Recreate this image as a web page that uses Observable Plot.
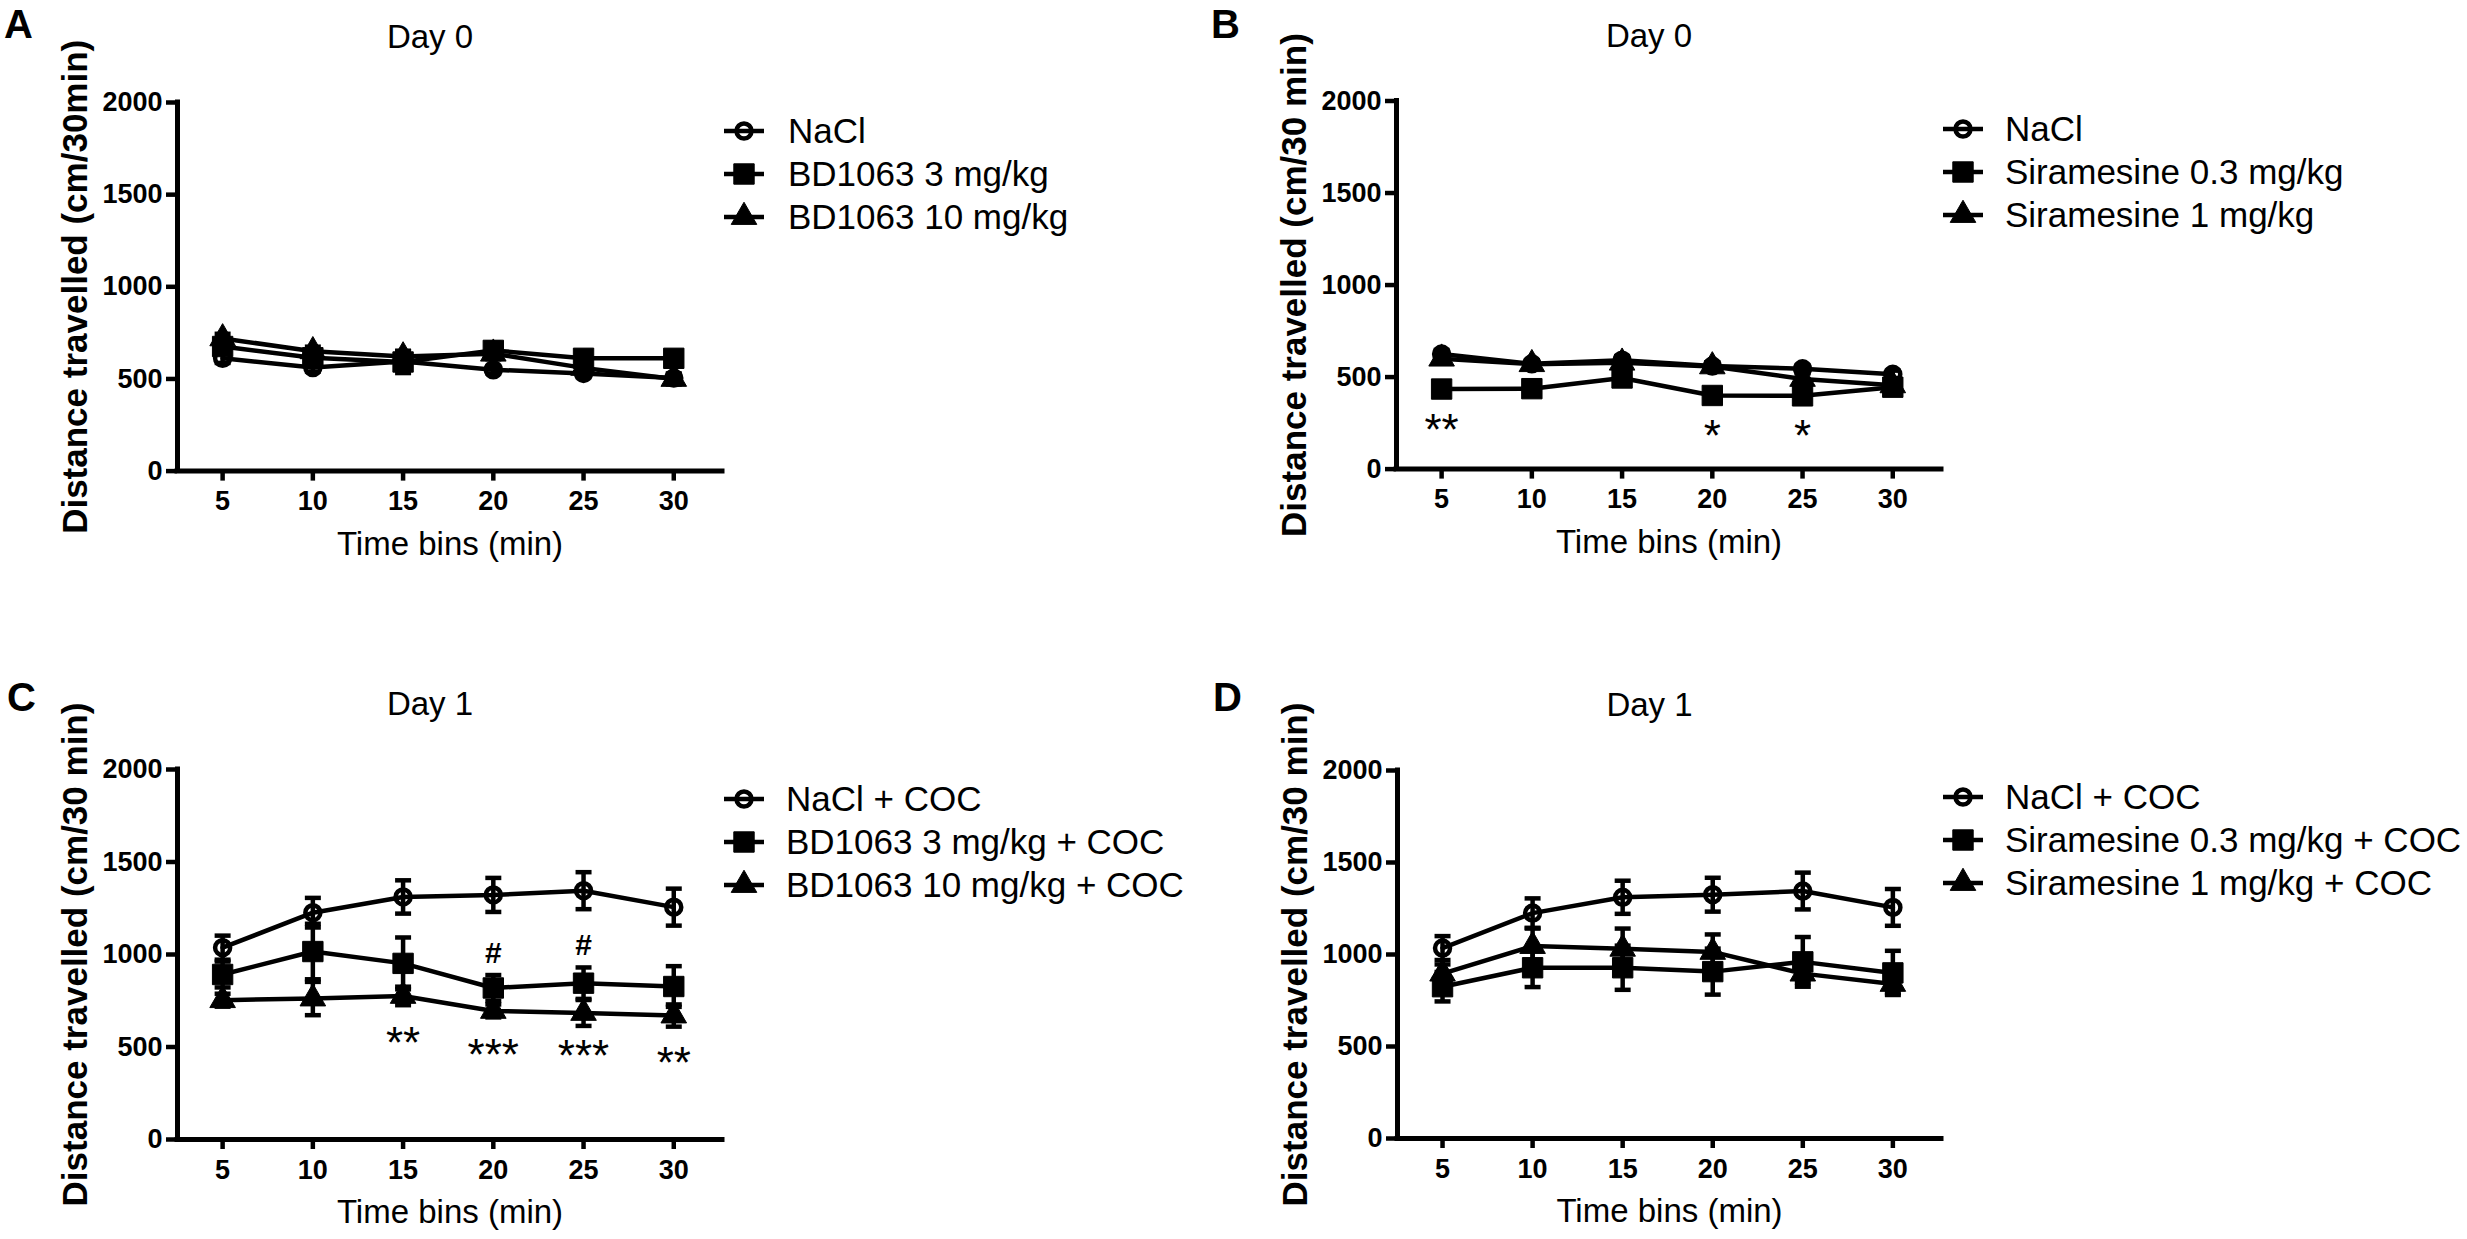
<!DOCTYPE html>
<html>
<head>
<meta charset="utf-8">
<script src="https://cdn.jsdelivr.net/npm/d3@7"></script>
<script src="https://cdn.jsdelivr.net/npm/@observablehq/plot@0.6"></script>
<style>
  html, body { margin: 0; padding: 0; background: #fff; }
  body { width: 2467px; height: 1239px; position: relative; overflow: hidden;
         font-family: "Liberation Sans", Arial, sans-serif; color: #000; }
  .panel { position: absolute; }
  #overlay { position: absolute; left: 0; top: 0; pointer-events: none; }
</style>
</head>
<body>
<div id="pA" class="panel" style="left:0px;top:0px"></div>
<div id="pB" class="panel" style="left:1230px;top:0px"></div>
<div id="pC" class="panel" style="left:0px;top:619px"></div>
<div id="pD" class="panel" style="left:1230px;top:619px"></div>
<svg id="overlay" width="2467" height="1239"></svg>
<script>
// ---------- data ----------
const bins = [5, 10, 15, 20, 25, 30];
const yTicks = [0, 500, 1000, 1500, 2000];

// Panel A (Day 0, BD1063)
const aNames = ["NaCl", "BD1063 3 mg/kg", "BD1063 10 mg/kg"];
const aNaCl = [612, 562, 595, 550, 530, 505];
const aNaClErr = [25, 22, 25, 20, 20, 20];
const aBD3 = [676, 615, 592, 655, 612, 612];
const aBD3Err = [30, 25, 60, 42, 30, 30];
const aBD10 = [720, 650, 622, 637, 560, 500];
const aBD10Err = [25, 25, 30, 30, 25, 30];

// Panel B (Day 0, Siramesine)
const bNames = ["NaCl", "Siramesine 0.3 mg/kg", "Siramesine 1 mg/kg"];
const bNaCl = [625, 572, 592, 560, 545, 515];
const bNaClErr = [22, 20, 22, 20, 20, 20];
const bSir03 = [435, 437, 495, 400, 398, 445];
const bSir03Err = [25, 25, 30, 30, 30, 30];
const bSir1 = [600, 570, 578, 558, 490, 455];
const bSir1Err = [22, 20, 22, 22, 30, 25];
const bStars = [{t: 5, v: 268, s: "**"}, {t: 20, v: 236, s: "*"}, {t: 25, v: 236, s: "*"}];

// Panel C (Day 1, BD1063 + COC)
const cNames = ["NaCl + COC", "BD1063 3 mg/kg + COC", "BD1063 10 mg/kg + COC"];
const cNaCl = [1037, 1226, 1311, 1322, 1345, 1256];
const cNaClErr = [65, 80, 90, 92, 100, 100];
const cBD3 = [892, 1016, 952, 819, 845, 827];
const cBD3Err = [70, 150, 140, 70, 85, 110];
const cBD10 = [753, 762, 776, 695, 684, 670];
const cBD10Err = [35, 90, 50, 35, 70, 60];
const cStars = [{t: 15, v: 578, s: "**"}, {t: 20, v: 513, s: "***"}, {t: 25, v: 505, s: "***"}, {t: 30, v: 470, s: "**"}];
const cHashes = [{t: 20, v: 1005, s: "#"}, {t: 25, v: 1049, s: "#"}];

// Panel D (Day 1, Siramesine + COC)
const dNames = ["NaCl + COC", "Siramesine 0.3 mg/kg + COC", "Siramesine 1 mg/kg + COC"];
const dNaCl = [1035, 1225, 1311, 1325, 1345, 1256];
const dNaClErr = [65, 80, 90, 92, 100, 100];
const dSir03 = [825, 928, 928, 907, 960, 900];
const dSir03Err = [80, 105, 120, 125, 135, 120];
const dSir1 = [896, 1046, 1031, 1014, 896, 840];
const dSir1Err = [50, 95, 110, 95, 50, 50];

const shapes = ["circle", "square", "triangle"];

// ---------- styling ----------
const FONT = "'Liberation Sans', Arial, sans-serif";
const LW = 4.5;
const symR = {circle: 7.5, square: 11.5, triangle: 9.5};
const capSymbol = {
  draw(context, size) {
    const w = Math.sqrt(size / Math.PI);
    context.moveTo(-w, 0);
    context.lineTo(w, 0);
  }
};

function panel(el, cfg) {
  const series = cfg.series;
  const marks = [];
  series.forEach((s, k) => {
    const rows = bins.map((t, i) => ({t, v: s.mean[i], e: s.err[i]}));
    marks.push(Plot.ruleX(rows, {x: "t", y1: d => d.v - d.e, y2: d => d.v + d.e, stroke: "black", strokeWidth: LW}));
    marks.push(Plot.dot(rows, {x: "t", y: d => d.v + d.e, symbol: capSymbol, r: 8, fill: "none", stroke: "black", strokeWidth: LW}));
    marks.push(Plot.dot(rows, {x: "t", y: d => d.v - d.e, symbol: capSymbol, r: 8, fill: "none", stroke: "black", strokeWidth: LW}));
  });
  series.forEach((s, k) => {
    const rows = bins.map((t, i) => ({t, v: s.mean[i]}));
    marks.push(Plot.line(rows, {x: "t", y: "v", stroke: "black", strokeWidth: LW, strokeLinejoin: "round"}));
  });
  series.forEach((s, k) => {
    const rows = bins.map((t, i) => ({t, v: s.mean[i]}));
    const shape = shapes[k];
    marks.push(Plot.dot(rows, {
      x: "t", y: "v", symbol: shape, r: symR[shape],
      fill: shape === "circle" ? "none" : "black",
      stroke: "black", strokeWidth: shape === "circle" ? LW : 1, strokeLinejoin: "round"
    }));
  });
  // axis lines
  marks.push(Plot.ruleX([2.5], {x: d => d, y1: 0, y2: 2000, stroke: "black", strokeWidth: 5, strokeLinecap: "square"}));
  marks.push(Plot.ruleY([0], {y: d => d, x1: 2.5, x2: 32.7, stroke: "black", strokeWidth: 5, strokeLinecap: "square"}));
  marks.push(Plot.axisX({ticks: bins, tickSize: 10, tickPadding: 10, fontSize: 27, fontWeight: "bold", strokeWidth: LW, label: null, tickFormat: d => String(d)}));
  marks.push(Plot.axisY({ticks: yTicks, tickSize: 11, tickPadding: 4, fontSize: 27, fontWeight: "bold", strokeWidth: LW, label: null, tickFormat: d => String(d)}));
  // texts
  marks.push(Plot.text([cfg.title], {text: d => d, frameAnchor: "top", dx: -20, dy: -65, fontSize: 33, lineAnchor: "middle", textAnchor: "middle"}));
  marks.push(Plot.text([cfg.ylabel], {text: d => d, frameAnchor: "left", dx: -102, rotate: -90, fontSize: 35, fontWeight: "bold", lineAnchor: "middle", textAnchor: "middle"}));
  marks.push(Plot.text(["Time bins (min)"], {text: d => d, frameAnchor: "bottom", dy: 73, fontSize: 33, lineAnchor: "middle", textAnchor: "middle"}));
  if (cfg.stars) marks.push(Plot.text(cfg.stars, {x: "t", y: "v", text: "s", fontSize: 44, dy: 11, lineAnchor: "middle"}));
  if (cfg.hashes) marks.push(Plot.text(cfg.hashes, {x: "t", y: "v", text: "s", fontSize: 30, fontWeight: "bold", lineAnchor: "middle"}));

  const chart = Plot.plot({
    width: cfg.width, height: cfg.height,
    marginLeft: cfg.ml, marginRight: cfg.mr, marginTop: cfg.mt, marginBottom: cfg.mb,
    x: {domain: [2.5, 32.7]},
    y: {domain: [0, 2000]},
    style: {fontFamily: FONT, color: "black", background: "white", overflow: "visible"},
    marks
  });
  el.appendChild(chart);
}

panel(document.getElementById("pA"), {
  width: 760, height: 620, ml: 177, mr: 38, mt: 102, mb: 149.4,
  title: "Day 0", ylabel: "Distance travelled (cm/30min)",
  series: [{mean: aNaCl, err: aNaClErr}, {mean: aBD3, err: aBD3Err}, {mean: aBD10, err: aBD10Err}]
});
panel(document.getElementById("pB"), {
  width: 760, height: 620, ml: 166, mr: 49, mt: 100.5, mb: 151.4,
  title: "Day 0", ylabel: "Distance travelled (cm/30 min)",
  series: [{mean: bNaCl, err: bNaClErr}, {mean: bSir03, err: bSir03Err}, {mean: bSir1, err: bSir1Err}],
  stars: bStars
});
panel(document.getElementById("pC"), {
  width: 760, height: 620, ml: 177, mr: 38, mt: 150, mb: 100,
  title: "Day 1", ylabel: "Distance travelled (cm/30 min)",
  series: [{mean: cNaCl, err: cNaClErr}, {mean: cBD3, err: cBD3Err}, {mean: cBD10, err: cBD10Err}],
  stars: cStars, hashes: cHashes
});
panel(document.getElementById("pD"), {
  width: 760, height: 620, ml: 167, mr: 49, mt: 151, mb: 101,
  title: "Day 1", ylabel: "Distance travelled (cm/30 min)",
  series: [{mean: dNaCl, err: dNaClErr}, {mean: dSir03, err: dSir03Err}, {mean: dSir1, err: dSir1Err}]
});

// ---------- legends and panel letters ----------
const ov = d3.select("#overlay");
const legends = [
  {names: aNames, x0: 724, tx: 788, y0: 131},
  {names: bNames, x0: 1943, tx: 2005, y0: 129},
  {names: cNames, x0: 724, tx: 786, y0: 799},
  {names: dNames, x0: 1943, tx: 2005, y0: 797}
];
const symTypes = {circle: d3.symbolCircle, square: d3.symbolSquare, triangle: d3.symbolTriangle};
legends.forEach(L => {
  L.names.forEach((name, k) => {
    const y = L.y0 + k * 43;
    const g = ov.append("g");
    g.append("line").attr("x1", L.x0).attr("x2", L.x0 + 40).attr("y1", y).attr("y2", y)
      .attr("stroke", "black").attr("stroke-width", LW);
    const shape = shapes[k];
    const r = symR[shape];
    g.append("path").attr("transform", `translate(${L.x0 + 20},${y})`)
      .attr("d", d3.symbol(symTypes[shape], Math.PI * r * r)())
      .attr("fill", shape === "circle" ? "none" : "black")
      .attr("stroke", "black").attr("stroke-width", shape === "circle" ? LW : 1);
    g.append("text").attr("x", L.tx).attr("y", y).attr("dy", "0.35em")
      .attr("font-family", FONT).attr("font-size", 35).text(name);
  });
});
const letters = [{s: "A", x: 4, y: 38}, {s: "B", x: 1211, y: 38}, {s: "C", x: 7, y: 711}, {s: "D", x: 1213, y: 711}];
letters.forEach(l => {
  ov.append("text").attr("x", l.x).attr("y", l.y).attr("font-family", FONT)
    .attr("font-size", 40).attr("font-weight", "bold").text(l.s);
});
</script>
</body>
</html>
